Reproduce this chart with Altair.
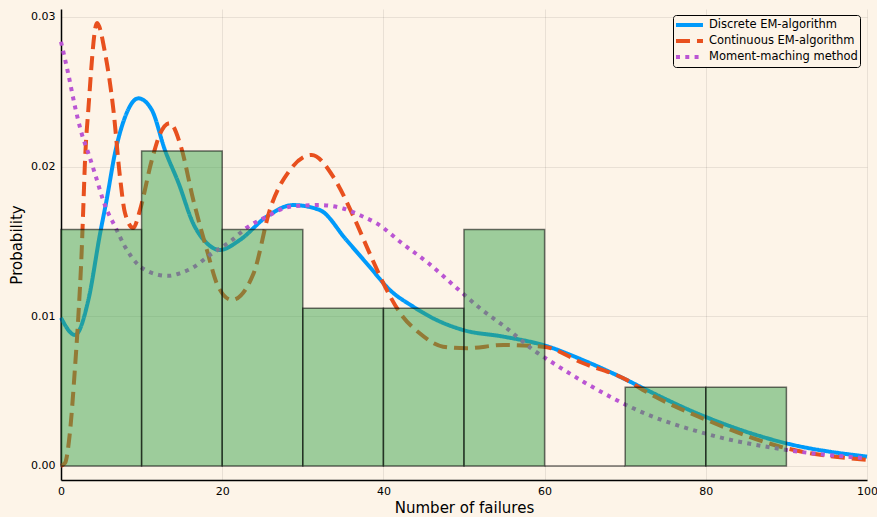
import altair as alt
import pandas as pd

# ---- data ----
series_names = ["Discrete EM-algorithm", "Continuous EM-algorithm", "Moment-maching method"]

x_discrete = [0, 1.74, 3.4, 4.84, 5.67, 6.7, 7.94, 9.6, 11.25, 12.9, 14.6, 16.4, 18.1, 19.7,
              22.2, 25.5, 28.8, 32.1, 35.4, 38.3, 40.8, 43.7, 46.6, 49.9, 54.9, 59.8, 65.2,
              70.2, 72.2, 80.1, 90, 100]
y_discrete = [0.0099, 0.00875, 0.0111, 0.0155, 0.0178, 0.0209, 0.0233, 0.02456, 0.0238, 0.0211,
              0.01888, 0.0162, 0.01488, 0.01443, 0.0151, 0.01665, 0.01743, 0.0171, 0.0151, 0.0133,
              0.01176, 0.01064, 0.00975, 0.00908, 0.00864, 0.00808, 0.00697, 0.00574, 0.0052,
              0.00325, 0.00151, 0.00062]

x_continuous = [0, 0.5, 1.1, 1.74, 2.15, 2.57, 2.77, 2.98, 3.39, 4.47, 5.46, 6.5, 7.32, 7.94,
                8.97, 9.8, 11.25, 12.3, 13.5, 14.9, 16.4, 18.1, 19.5, 21.2, 23.9, 25.9, 28.4,
                31.1, 33.8, 36.3, 38.3, 40, 42.1, 44.5, 47.4, 50.3, 54.9, 59.8, 64.8, 70.2,
                72.2, 80.1, 90, 100]
y_continuous = [0.0, 0.0002, 0.0022, 0.0066, 0.00997, 0.0144, 0.0173, 0.0204, 0.0238, 0.0296,
                0.0276, 0.0238, 0.0193, 0.0169, 0.0159, 0.0171, 0.0204, 0.0222, 0.0229, 0.0213,
                0.0178, 0.01443, 0.01198, 0.01109, 0.01287, 0.0171, 0.01977, 0.02078, 0.0193,
                0.01665, 0.0142, 0.0122, 0.0102, 0.00886, 0.00797, 0.00786, 0.00808, 0.00797,
                0.00686, 0.00574, 0.00508, 0.00307, 0.00118, 0.0004]

x_moment = [0, 0.9, 1.74, 2.57, 3.39, 4.2, 5.46, 6.7, 7.94, 9.6, 10.8, 13.3, 14.76, 16.2, 18.5,
            21, 23, 25.5, 28.4, 32.1, 35, 37.5, 39.2, 42.3, 45.6, 48.9, 52, 55.3, 58.6, 61.1,
            64.8, 68.5, 71, 80.1, 90, 100]
y_moment = [0.02834, 0.0262, 0.024, 0.0222, 0.0209, 0.01955, 0.0174, 0.016, 0.01465, 0.01343,
            0.0130, 0.0127, 0.01287, 0.0132, 0.0141, 0.015, 0.0159, 0.01665, 0.01732, 0.01743,
            0.0172, 0.01665, 0.0162, 0.01488, 0.01354, 0.01198, 0.01053, 0.0092, 0.00775,
            0.00686, 0.00563, 0.00452, 0.00385, 0.00214, 0.00107, 0.00051]

bin_start = [0, 10, 20, 30, 40, 50, 60, 70, 80]
bin_end = [10, 20, 30, 40, 50, 60, 70, 80, 90]
bin_prob = [0.01579, 0.02105, 0.01579, 0.01053, 0.01053, 0.01579, 0.0, 0.00526, 0.00526]

x_ticks = [0, 20, 40, 60, 80, 100]
y_ticks = [0.0, 0.01, 0.02, 0.03]

line_colors = ["#009AFA", "#E8501E", "#BA55D3"]
line_dashes = [[1, 0], [14, 7], [4, 5.3]]

BG = "#FDF4E8"
FONT = "DejaVu Sans"

# ---- tables ----
rows = []
for name, xs, ys in zip(series_names, [x_discrete, x_continuous, x_moment],
                        [y_discrete, y_continuous, y_moment]):
    for i, (xv, yv) in enumerate(zip(xs, ys)):
        rows.append({"series": name, "x": xv, "y": yv, "i": i})
df_lines = pd.DataFrame(rows)

df_bars = pd.DataFrame({"x0": bin_start, "x1": bin_end, "p": bin_prob,
                        "base": [0.0] * len(bin_start)})

x_scale = alt.Scale(domain=[0, 100], nice=False, zero=False)
y_scale = alt.Scale(domain=[-0.00094, 0.03053], nice=False, zero=False)

x_axis = alt.Axis(title="Number of failures", values=x_ticks, format="d", ticks=False,
                  labelPadding=5, titlePadding=4, grid=True, labelFlush=False)
y_axis = alt.Axis(title="Probability", values=y_ticks, format=".2f", ticks=False,
                  labelPadding=6, titlePadding=6, grid=True, labelFlush=False)

legend = alt.Legend(title=None, orient="none", legendX=612, legendY=6,
                    symbolType="M-1.17,0H3.33", symbolSize=144, symbolStrokeWidth=4,
                    labelFont=FONT, labelFontSize=11.5, labelColor="black",
                    labelOffset=18, fillColor=BG, strokeColor="black",
                    padding=2, cornerRadius=3, rowPadding=0)

lines = alt.Chart(df_lines).mark_line(strokeWidth=4, interpolate="monotone",
                                      strokeCap="butt").encode(
    x=alt.X("x:Q", scale=x_scale, axis=x_axis),
    y=alt.Y("y:Q", scale=y_scale, axis=y_axis),
    color=alt.Color("series:N", scale=alt.Scale(domain=series_names, range=line_colors),
                    legend=legend),
    strokeDash=alt.StrokeDash("series:N",
                              scale=alt.Scale(domain=series_names, range=line_dashes),
                              legend=legend),
    order="i:Q",
)

bars = alt.Chart(df_bars).mark_rect(fill="#3EA44E", fillOpacity=0.5, stroke="black",
                                    strokeOpacity=0.55, strokeWidth=1.5).encode(
    x=alt.X("x0:Q", scale=x_scale, axis=x_axis),
    x2="x1:Q",
    y=alt.Y("p:Q", scale=y_scale, axis=y_axis),
    y2="base:Q",
)

chart = alt.layer(lines, bars).properties(
    width=806, height=471,
    autosize=alt.AutoSizeParams(type="none"),
    padding={"left": 61, "top": 9, "right": 10, "bottom": 37},
    background=BG,
).configure_view(stroke=None).configure_axis(
    domainColor="black", domainWidth=1.5,
    gridColor="black", gridOpacity=0.1, gridWidth=0.8,
    labelFont=FONT, labelFontSize=11, labelColor="black",
    titleFont=FONT, titleFontSize=15, titleFontWeight="normal", titleColor="black",
)

chart.save("out.html", embed_options={"renderer": "svg", "actions": False})
